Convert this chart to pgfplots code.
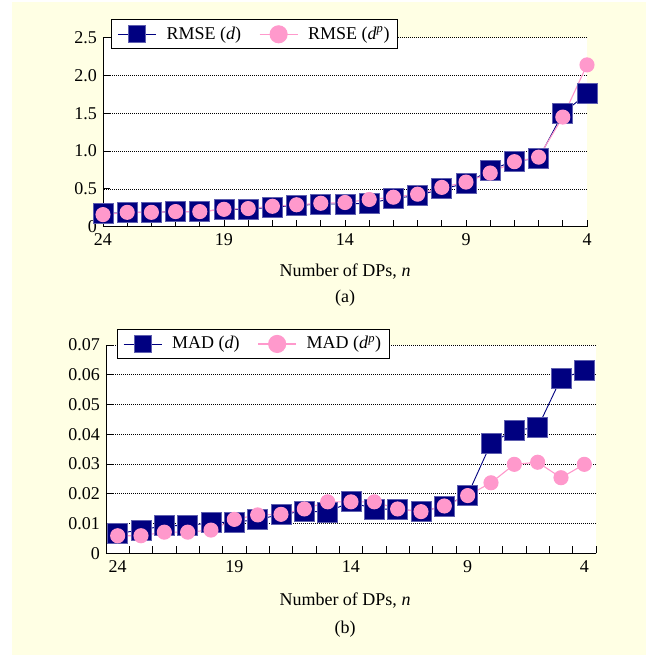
\documentclass[border=0pt]{standalone}
\usepackage{fontspec}
\setmainfont{Liberation Serif}
\usepackage{pgfplots}
\pgfplotsset{compat=1.18}
\usepackage{pgfplotstable}

\definecolor{bgyellow}{RGB}{255,255,228}
\definecolor{navyd}{RGB}{0,0,128}
\definecolor{navyedge}{RGB}{95,95,175}
\definecolor{pinkp}{RGB}{255,153,204}

\pgfplotstableread{
n   d      dp
24  0.17   0.16
23  0.19   0.19
22  0.19   0.19
21  0.20   0.20
20  0.20   0.20
19  0.23   0.23
18  0.23   0.24
17  0.26   0.27
16  0.28   0.29
15  0.30   0.31
14  0.30   0.32
13  0.31   0.36
12  0.375  0.39
11  0.41   0.43
10  0.50   0.52
9   0.57   0.59
8   0.75   0.71
7   0.87   0.86
6   0.90   0.92
5   1.50   1.45
4   1.76   2.14
}\rmsedata

\pgfplotstableread{
n   d       dp
24  0.0067  0.0059
23  0.0078  0.0059
22  0.0093  0.0071
21  0.0093  0.0071
20  0.0103  0.0078
19  0.0105  0.0114
18  0.0113  0.0129
17  0.0131  0.0131
16  0.0141  0.0149
15  0.0139  0.0173
14  0.0173  0.0173
13  0.0148  0.0173
12  0.0149  0.0149
11  0.0140  0.0140
10  0.0159  0.0159
9   0.0196  0.0194
8   0.0370  0.0237
7   0.0414  0.0299
6   0.0422  0.0306
5   0.0588  0.0254
4   0.0613  0.0299
}\maddata

\pgfplotsset{
  panel/.style={
    scale only axis,
    x dir=reverse,
    axis x line=bottom, axis y line=left,
    axis line style={-, black, line width=0.9pt},
    tick align=inside,
    major tick length=7pt, minor tick length=7pt,
    tick style={black, line width=0.8pt},
    scaled y ticks=false,
    ymajorgrids,
    major grid style={black, line width=0.6pt, dash pattern=on 1pt off 1pt},
    axis background/.style={fill=white},
    tick label style={font=\fontsize{18}{21.6}\selectfont},
    xticklabel style={yshift=-1pt},
    clip=false,
    legend columns=2,
    legend style={draw=black, line width=0.8pt, fill=white,
      font=\fontsize{18}{21.6}\selectfont, anchor=west,
      inner xsep=6pt, inner ysep=5pt,
      /tikz/every odd column/.append style={column sep=8pt},
      /tikz/every even column/.append style={column sep=16pt}},
    legend image code/.code={
      \draw[mark repeat=2, mark phase=2, mark size=8.5pt, ##1]
        plot coordinates {(0pt,0pt) (19pt,0pt) (38pt,0pt)};},
  },
  dser/.style={color=navyd, line width=0.9pt, mark=square*,
    mark size=10pt, mark options={fill=navyd, draw=navyedge, line width=0.8pt}},
  pser/.style={color=pinkp, line width=1.1pt, mark=*,
    mark size=7pt, mark options={fill=pinkp, draw=pinkp}},
}

\begin{document}
\fontsize{18}{21.6}\selectfont
\begin{tikzpicture}[x=1pt, y=1pt]
  \fill[white] (0,0) rectangle (646,655);
  \fill[bgyellow] (12,0) rectangle (646,653);

  % (a) RMSE
  \begin{axis}[panel,
      at={(103pt,428.3pt)}, anchor=south west,
      width=484pt, height=189pt,
      xmin=4, xmax=24, ymin=0, ymax=2.5,
      xtick={24,19,14,9,4}, minor xtick={4,...,24},
      ytick={0,0.5,1,1.5,2,2.5},
      yticklabels={0,0.5,1.0,1.5,2.0,2.5},
      xticklabels={24,19,14,9,4},
      legend style={at={(0.017,1.018)}},
    ]
    \addplot[dser] table[x=n, y=d] {\rmsedata};
    \addplot[pser] table[x=n, y=dp] {\rmsedata};
    \legend{RMSE (\textit{d}), RMSE (\textit{d}\textsuperscript{\textit{p}})}
  \end{axis}

  % (b) MAD
  \begin{axis}[panel,
      at={(106pt,101.7pt)}, anchor=south west,
      width=490pt, height=208.3pt,
      xmin=3.5, xmax=24.5, ymin=0, ymax=0.07,
      xtick={24,19,14,9,4}, major x tick style={draw=none},
      minor xtick={3.5,4.5,...,24.5},
      ytick={0,0.01,0.02,0.03,0.04,0.05,0.06,0.07},
      yticklabels={0,0.01,0.02,0.03,0.04,0.05,0.06,0.07},
      xticklabels={24,19,14,9,4},
      legend style={at={(0.022,1.005)}},
    ]
    \addplot[dser] table[x=n, y=d] {\maddata};
    \addplot[pser] table[x=n, y=dp] {\maddata};
    \legend{MAD (\textit{d}), MAD (\textit{d}\textsuperscript{\textit{p}})}
  \end{axis}

  \node[anchor=base] at (345,378.5) {Number of DPs, \textit{n}};
  \node[anchor=base] at (345,352) {(a)};
  \node[anchor=base] at (345,49) {Number of DPs, \textit{n}};
  \node[anchor=base] at (345,21) {(b)};
\end{tikzpicture}
\end{document}
